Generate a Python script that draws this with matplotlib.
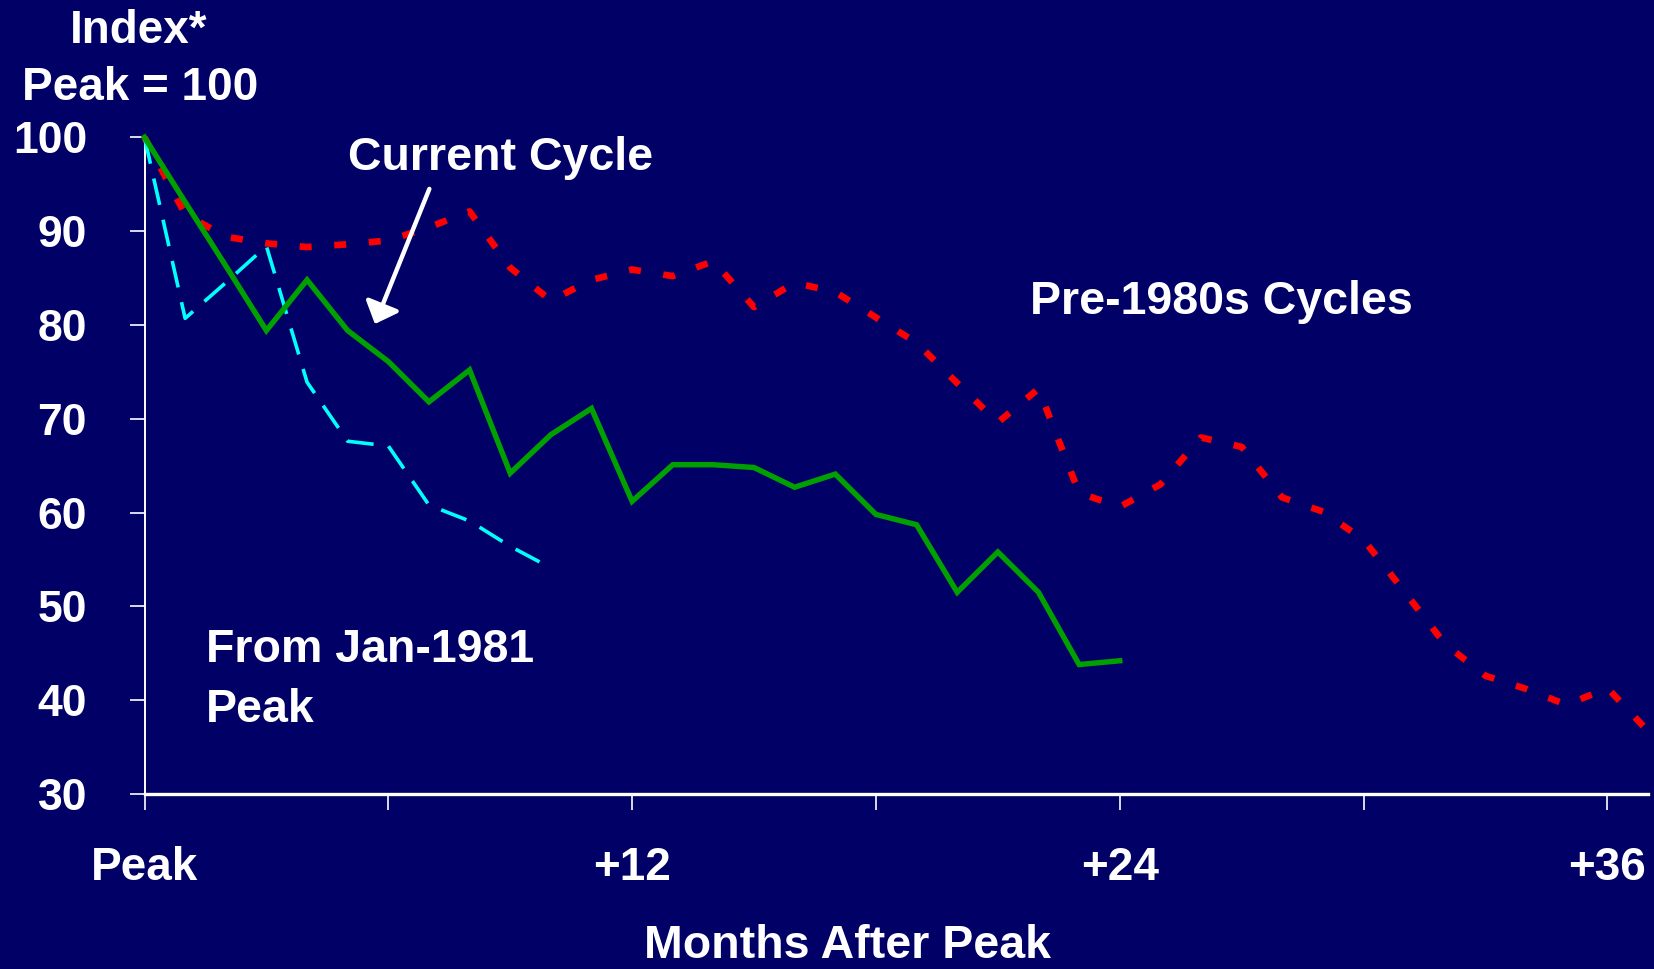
import matplotlib
matplotlib.use("Agg")
import matplotlib.pyplot as plt

# ---- data ----
months_current = list(range(0, 25))
current_cycle = [100, 93.1, 86.3, 79.4, 84.8, 79.4, 76.1, 71.8, 75.2, 64.2, 68.3, 71.1,
                 61.2, 65.1, 65.1, 64.8, 62.7, 64.1, 59.8, 58.7, 51.5, 55.8, 51.5, 43.8, 44.2]

months_pre1980 = list(range(0, 38))
pre1980_cycles = [100, 91.8, 89.4, 88.7, 88.3, 88.6, 89.0, 90.4, 92.1, 86.1, 82.6, 84.8,
                  85.9, 85.2, 86.8, 81.9, 84.5, 83.5, 80.8, 78.1, 73.8, 69.6, 73.2, 62.1,
                  60.6, 63.0, 68.0, 67.0, 61.6, 60.1, 57.1, 51.6, 46.0, 42.6, 41.2, 39.5,
                  41.3, 36.7]

months_1981 = list(range(0, 11))
from_jan1981 = [100, 80.7, 84.5, 88.4, 73.9, 67.6, 67.1, 60.8, 59.1, 56.4, 54.1]

x_ticks = [0, 6, 12, 18, 24, 30, 36]
x_tick_labels = ["Peak", "", "+12", "", "+24", "", "+36"]
y_ticks = [30, 40, 50, 60, 70, 80, 90, 100]

# ---- style ----
BG = "#000066"
plt.rcParams["font.family"] = ["Liberation Sans", "DejaVu Sans"]
plt.rcParams["font.weight"] = "bold"

W, H = 1654, 969
fig = plt.figure(figsize=(W / 100, H / 100), dpi=100, facecolor=BG)
ax = fig.add_axes([144.5 / W, 1 - 794 / H, (1648 - 144.5) / W, (794 - 137.3) / H], facecolor=BG)

ax.plot(months_pre1980, pre1980_cycles, color="#FF0000", lw=4.8,
        dashes=(1.8, 3.4), dash_capstyle="butt", clip_on=False, zorder=2)
ax.plot(months_1981, from_jan1981, color="#00FFFF", lw=2.6,
        dashes=(7.5, 4.2), dash_capstyle="butt", clip_on=False, zorder=3)
ax.plot(months_current, current_cycle, color="#00A000", lw=3.9,
        solid_joinstyle="miter", clip_on=False, zorder=4)

ax.set_xlim(0, 37)
ax.set_ylim(30, 100)
ax.set_xticks(x_ticks)
ax.set_xticklabels(x_tick_labels)
ax.set_yticks(y_ticks)
ax.set_yticklabels([str(v) for v in y_ticks])

for s in ("top", "right"):
    ax.spines[s].set_visible(False)
ax.spines["left"].set_color("white")
ax.spines["left"].set_linewidth(1.4)
ax.spines["bottom"].set_color("white")
ax.spines["bottom"].set_linewidth(2.4)
ax.tick_params(axis="x", colors="white", length=11.7, width=1.2, pad=26, labelsize=33)
ax.tick_params(axis="y", colors="white", length=10.8, width=1.2, pad=30.6, labelsize=32)

# arrow
ax.annotate("", xy=(5.67, 80.1), xytext=(7.01, 94.5),
            arrowprops=dict(arrowstyle="-|>,head_length=0.6,head_width=0.55",
                            color="white", lw=3.2, shrinkA=0, shrinkB=0,
                            mutation_scale=20), zorder=5)

def ftext(px, py, s, **kw):
    fig.text(px / W, 1 - py / H, s, color="white", fontweight="bold", **kw)

ftext(138.3, 43.3, "Index*", fontsize=33, ha="center", va="baseline")
ftext(139.7, 100.0, "Peak = 100", fontsize=33, ha="center", va="baseline")
ftext(500.5, 170.0, "Current Cycle", fontsize=33.5, ha="center", va="baseline")
ftext(1221.0, 314.0, "Pre-1980s Cycles", fontsize=33.5, ha="center", va="baseline")
ftext(205.7, 662.5, "From Jan-1981", fontsize=33.5, ha="left", va="baseline")
ftext(205.7, 721.5, "Peak", fontsize=33.5, ha="left", va="baseline")
ftext(848.0, 958.0, "Months After Peak", fontsize=33.5, ha="center", va="baseline")

fig.savefig("out.png", dpi=100, facecolor=BG)
